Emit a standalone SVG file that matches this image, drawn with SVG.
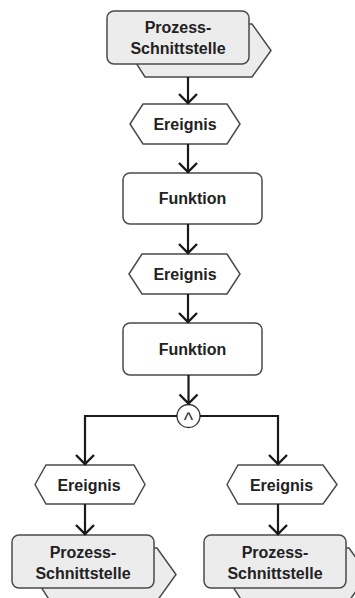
<svg xmlns="http://www.w3.org/2000/svg" width="355" height="598" viewBox="0 0 355 598">
  <style>
    .lbl { font-family: "Liberation Sans", Arial, sans-serif; font-size: 16px; font-weight: bold; fill: #222; text-anchor: middle; }
    .fn { fill: #ffffff; stroke: #4a4a4a; stroke-width: 1.5; }
    .ev { fill: #ffffff; stroke: #4a4a4a; stroke-width: 1.5; stroke-linejoin: miter; }
    .pi-front { fill: #ececec; stroke: #4a4a4a; stroke-width: 1.5; }
    .pi-back { fill: #ececec; stroke: #4a4a4a; stroke-width: 1.5; }
    .flow { fill: none; stroke: #1a1a1a; stroke-width: 2.2; marker-end: url(#arrow); }
    .op { fill: #ffffff; stroke: #333; stroke-width: 1.3; }
    .opsym { font-family: "Liberation Sans", Arial, sans-serif; font-size: 20px; fill: #333; text-anchor: middle; }
  </style>
  <defs>
    <marker id="arrow" viewBox="-12 -12 24 24" markerWidth="24" markerHeight="24" refX="0" refY="0" orient="auto" markerUnits="userSpaceOnUse">
      <path d="M -10 -9 L -1 0 L -10 9" fill="none" stroke="#1a1a1a" stroke-width="2.4" stroke-linejoin="miter"/>
    </marker>
  </defs>

  <!-- process interface (top) -->
  <g id="pi-top">
    <polygon class="pi-back" points="128,50.5 145,24 252,24 271,50.5 252,77 145,77"/>
    <rect class="pi-front" x="107" y="11" width="142" height="53" rx="7"/>
    <text class="lbl" x="178" y="33">Prozess-</text>
    <text class="lbl" x="178" y="54">Schnittstelle</text>
  </g>

  <g id="event-1">
    <polygon class="ev" points="130,124 143,104 227,104 240,124 227,144 143,144"/>
    <text class="lbl" x="185" y="130">Ereignis</text>
  </g>

  <g id="function-1">
    <rect class="fn" x="123" y="173" width="139" height="51" rx="7"/>
    <text class="lbl" x="192.5" y="204">Funktion</text>
  </g>

  <g id="event-2">
    <polygon class="ev" points="129,274 142,254 227,254 240,274 227,294 142,294"/>
    <text class="lbl" x="185" y="280">Ereignis</text>
  </g>

  <g id="function-2">
    <rect class="fn" x="123" y="323" width="139" height="52" rx="7"/>
    <text class="lbl" x="192.5" y="355">Funktion</text>
  </g>

  <g id="and-operator">
    <circle class="op" cx="188.5" cy="416" r="11.5"/>
    <text class="opsym" x="188.5" y="426.5">^</text>
  </g>

  <g id="event-3">
    <polygon class="ev" points="35,484.5 46,465 134,465 145,484.5 134,504 46,504"/>
    <text class="lbl" x="89" y="491">Ereignis</text>
  </g>

  <g id="event-4">
    <polygon class="ev" points="227,484.5 238,465 323,465 337,484.5 323,504 238,504"/>
    <text class="lbl" x="281.5" y="491">Ereignis</text>
  </g>

  <!-- process interfaces (bottom) -->
  <g id="pi-left">
    <polygon class="pi-back" points="33,574.5 50,548 157,548 176,574.5 157,601 50,601"/>
    <rect class="pi-front" x="12" y="535" width="142" height="53" rx="7"/>
    <text class="lbl" x="83" y="558">Prozess-</text>
    <text class="lbl" x="83" y="579">Schnittstelle</text>
  </g>

  <g id="pi-right">
    <polygon class="pi-back" points="225,574.5 242,548 349,548 368,574.5 349,601 242,601"/>
    <rect class="pi-front" x="204" y="535" width="142" height="53" rx="7"/>
    <text class="lbl" x="275" y="558">Prozess-</text>
    <text class="lbl" x="275" y="579">Schnittstelle</text>
  </g>

  <!-- control flow -->
  <g id="connectors">
    <path class="flow" d="M 188 77 V 104"/>
    <path class="flow" d="M 188 144 V 173"/>
    <path class="flow" d="M 188 224 V 254"/>
    <path class="flow" d="M 188 294 V 323"/>
    <path class="flow" d="M 188.5 375 V 404.5"/>
    <path class="flow" d="M 177 416 H 85 V 465"/>
    <path class="flow" d="M 200 416 H 278 V 465"/>
    <path class="flow" d="M 85 504 V 535"/>
    <path class="flow" d="M 278 504 V 535"/>
  </g>
</svg>
